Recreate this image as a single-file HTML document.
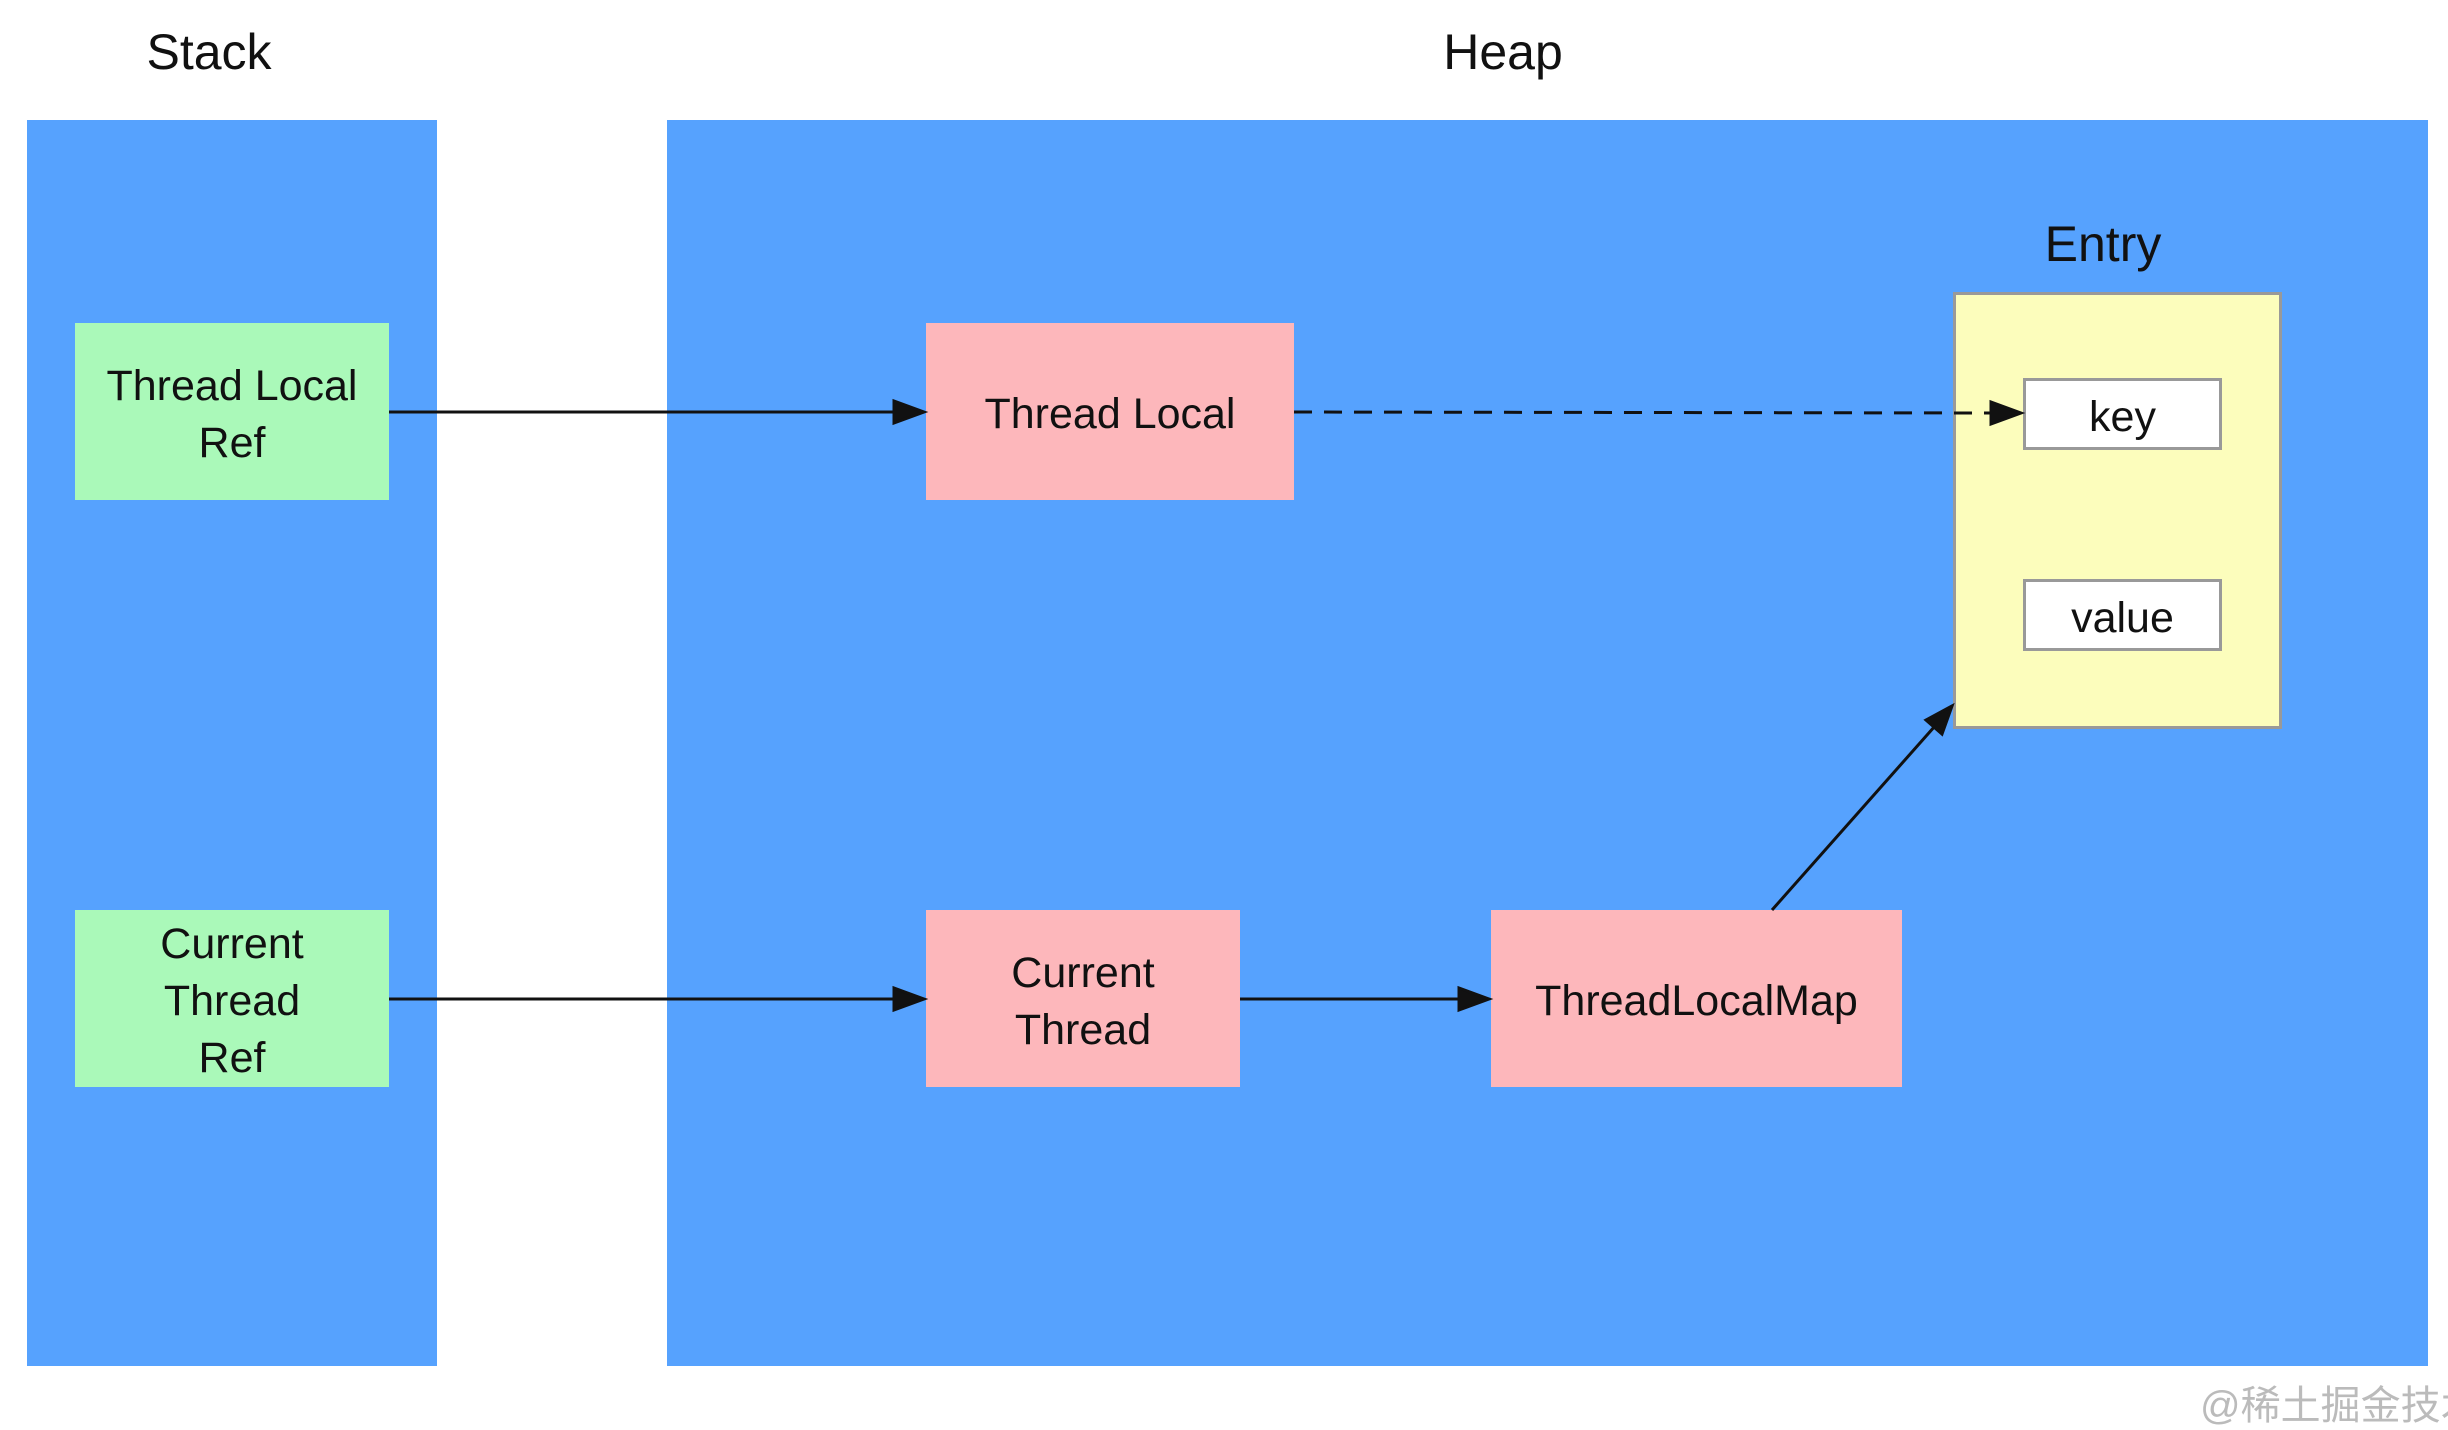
<!DOCTYPE html>
<html><head><meta charset="utf-8"><style>
html,body{margin:0;padding:0;background:#fff;}
body{width:2448px;height:1400px;position:relative;overflow:hidden;font-family:"Comic Sans MS","Liberation Sans","Noto Sans CJK SC",sans-serif;}
.r{position:absolute;box-sizing:border-box;display:flex;align-items:center;justify-content:center;text-align:center;color:#111;font-size:43px;line-height:57px;padding-top:6px;}
.t{position:absolute;font-size:50px;color:#111;transform:translateX(-50%);}
</style></head><body>
<div class="t" style="left:209px;top:23px">Stack</div>
<div class="t" style="left:1503px;top:23px">Heap</div>
<div class="r" style="left:27px;top:120px;width:410px;height:1246px;background:#56a2fe"></div>
<div class="r" style="left:667px;top:120px;width:1761px;height:1246px;background:#56a2fe"></div>
<div class="r" style="left:75px;top:323px;width:314px;height:177px;background:#aaf9b9">Thread Local<br>Ref</div>
<div class="r" style="left:75px;top:910px;width:314px;height:177px;background:#aaf9b9">Current<br>Thread<br>Ref</div>
<div class="r" style="left:926px;top:323px;width:368px;height:177px;background:#fdb7bb">Thread Local</div>
<div class="r" style="left:926px;top:910px;width:314px;height:177px;background:#fdb7bb">Current<br>Thread</div>
<div class="r" style="left:1491px;top:910px;width:411px;height:177px;background:#fdb7bb">ThreadLocalMap</div>
<div class="t" style="left:2103px;top:215px">Entry</div>
<div class="r" style="left:1953px;top:292px;width:329px;height:437px;background:#fcfdbc;border:3px solid #999"></div>
<div class="r" style="left:2023px;top:378px;width:199px;height:72px;background:#fff;border:3px solid #999">key</div>
<div class="r" style="left:2023px;top:579px;width:199px;height:72px;background:#fff;border:3px solid #999">value</div>
<svg style="position:absolute;left:0;top:0" width="2448" height="1400">
<g stroke="#111" stroke-width="3" fill="#111">
<line x1="389" y1="412" x2="896" y2="412"/><path d="M924,412L894,401L894,423z"/>
<line x1="389" y1="999" x2="896" y2="999"/><path d="M924,999L894,988L894,1010z"/>
<line x1="1240" y1="999" x2="1461" y2="999"/><path d="M1489,999L1459,988L1459,1010z"/>
<line x1="1294" y1="412" x2="1993" y2="413" stroke-dasharray="18 12"/><path d="M2021,413L1991,402L1991,424z"/>
<line x1="1772" y1="910" x2="1935" y2="726"/><path d="M1952,706L1926,720L1942,734z"/>
</g>
</svg>
<div style="position:absolute;left:2200px;top:1382px;font-size:40px;line-height:48px;color:#bbb;font-family:'Liberation Sans','Noto Sans CJK SC',sans-serif;white-space:nowrap">@稀土掘金技术社区</div>
</body></html>
